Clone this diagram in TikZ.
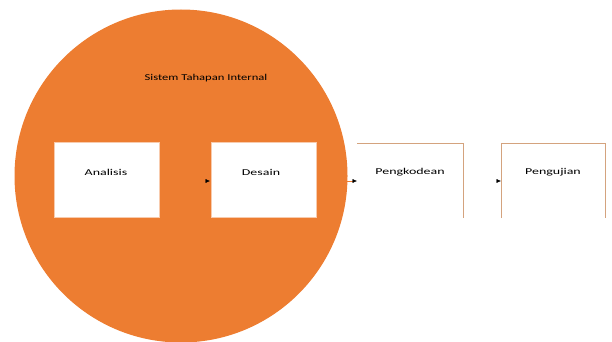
\documentclass[tikz,border=0pt]{standalone}
\usepackage{fontspec}
\usepackage{graphicx}
\setmainfont{Carlito}
\usetikzlibrary{arrows.meta}
\definecolor{orng}{HTML}{ED7D31}
\definecolor{tan}{HTML}{D4A37E}
\newcommand{\wide}[1]{\scalebox{1.55}[1]{#1}}
\begin{document}
\begin{tikzpicture}[x=1pt,y=-1pt,
  inbox/.style={draw=orng!40, fill=white, line width=0.6pt, minimum width=105pt, minimum height=75pt, inner sep=0pt},
  lbl/.style={font=\fontsize{9}{11}\selectfont, inner sep=1pt},
  conn/.style={line width=0.05pt, -{Latex[length=4.5pt,width=4pt,color=black,fill=black,line width=0.3pt]}},
  open/.style={draw=tan, line width=0.7pt}]
\useasboundingbox (0,0) rectangle (612,342);
\node[draw=none, fill=orng, circle, minimum size=333pt, inner sep=0pt] (circ) at (181,176) {};
\node[lbl] (title) at (206,78) {\scalebox{1.4}[1]{Sistem Tahapan Internal}};
\node[inbox] (ana) at (107,180) {};
\node[lbl] (anat) at (106,172) {\wide{Analisis}};
\node[inbox] (des) at (263.5,180) {};
\node[lbl] (dest) at (261,172) {\wide{Desain}};
% open boxes
\coordinate (p3a) at (357,218);
\coordinate (p3b) at (357,143);
\coordinate (p3c) at (463,143);
\coordinate (p3d) at (463,218);
\draw[open] (p3b) -- (p3c) -- (p3d);
\node[lbl] (kod) at (410,172) {\wide{Pengkodean}};
\coordinate (p4a) at (501,218);
\coordinate (p4b) at (501,143);
\coordinate (p4c) at (605,143);
\coordinate (p4d) at (605,218);
\draw[open] (p4a) -- (p4b) -- (p4c) -- (p4d);
\node[lbl] (uji) at (553,172) {\wide{Pengujian}};
% connectors
\coordinate (k1) at (160,181);
\coordinate (k2) at (210,181);
\coordinate (k2b) at (317,181);
\coordinate (k3) at (357,181);
\coordinate (k3b) at (465,181);
\coordinate (k4) at (501,181);
\draw[conn, draw=orng] (k1) -- (k2);
\draw[conn, draw=orng] (k2b) -- (k3);
\draw[conn, draw=white] (k3b) -- (k4);
\end{tikzpicture}
\end{document}
